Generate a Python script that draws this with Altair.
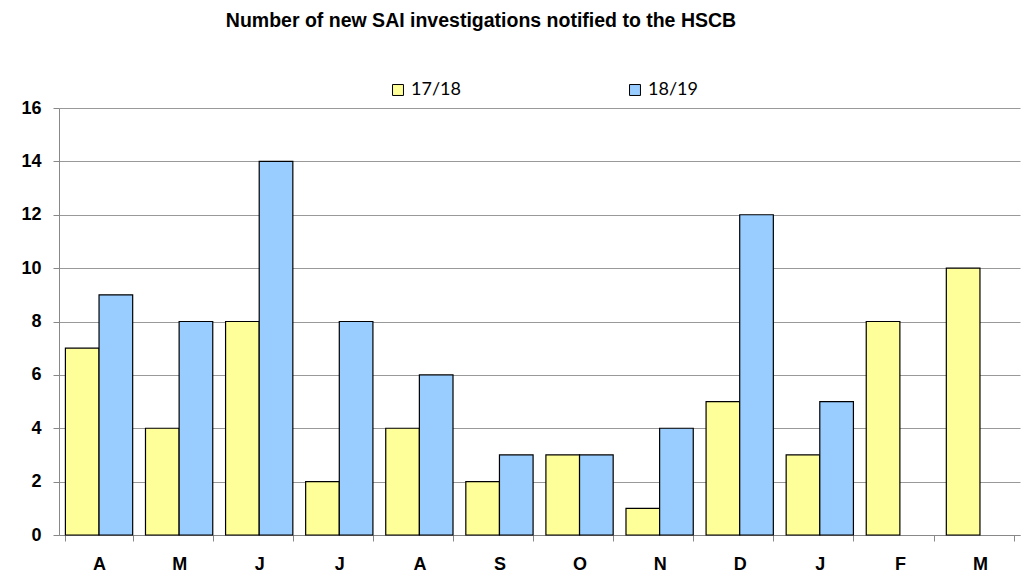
import altair as alt
import pandas as pd

months = ["A1", "M1", "J1", "J2", "A2", "S1", "O1", "N1", "D1", "J3", "F1", "M2"]
s1718 = [7, 4, 8, 2, 4, 2, 3, 1, 5, 3, 8, 10]
s1819 = [9, 8, 14, 8, 6, 3, 3, 4, 12, 5, None, None]
series = ["17/18", "18/19"]
colors = ["#FFFF99", "#99CCFF"]
title_text = "Number of new SAI investigations notified to the HSCB"

rows = []
for i, m in enumerate(months):
    rows.append({"month": m, "series": series[0], "value": s1718[i]})
    if s1819[i] is not None:
        rows.append({"month": m, "series": series[1], "value": s1819[i]})
df = pd.DataFrame(rows)

bars = alt.Chart(df).mark_bar(stroke="black", strokeWidth=1.2).encode(
    x=alt.X("month:N", sort=months, title=None,
            scale=alt.Scale(paddingInner=0.16, paddingOuter=0.08),
            axis=alt.Axis(labelExpr="datum.value ? substring(datum.value,0,1) : ''",
                          labelAngle=0,
                          tickBand="extent", tickSize=6, labelPadding=14,
                          labelFont="Liberation Sans", labelFontWeight="bold",
                          labelFontSize=18, labelColor="black",
                          domainColor="#888888", tickColor="#888888", grid=False)),
    xOffset=alt.XOffset("series:N", sort=series),
    y=alt.Y("value:Q", title=None,
            scale=alt.Scale(domain=[0, 16]),
            axis=alt.Axis(values=list(range(0, 17, 2)), tickSize=6, labelPadding=12,
                          labelFont="Liberation Sans", labelFontWeight="bold",
                          labelFontSize=18, labelColor="black",
                          domainColor="#888888", tickColor="#888888",
                          gridColor="#999999", gridWidth=1)),
    color=alt.Color("series:N", sort=series,
                    scale=alt.Scale(domain=series, range=colors),
                    legend=alt.Legend(title=None, orient="none", direction="horizontal",
                                      legendX=330, legendY=-27,
                                      symbolType="square", symbolSize=120,
                                      symbolStrokeColor="black", symbolStrokeWidth=1,
                                      labelFont="Lato", labelFontSize=18,
                                      labelColor="black", columnPadding=165,
                                      symbolOffset=0, labelOffset=4)),
)

title = alt.Chart(pd.DataFrame({"t": [title_text]})).mark_text(
    font="Liberation Sans", fontSize=19.5, fontWeight="bold", color="black",
    align="center", baseline="middle"
).encode(text="t:N", x=alt.value(422), y=alt.value(-87))

chart = alt.layer(bars, title).properties(
    width=961, height=427,
    autosize=alt.AutoSizeParams(type="none"),
    padding={"left": 51, "top": 100, "right": 2, "bottom": 40},
).configure_view(stroke=None)

chart.save("out.html", embed_options={"renderer": "svg", "actions": False})
